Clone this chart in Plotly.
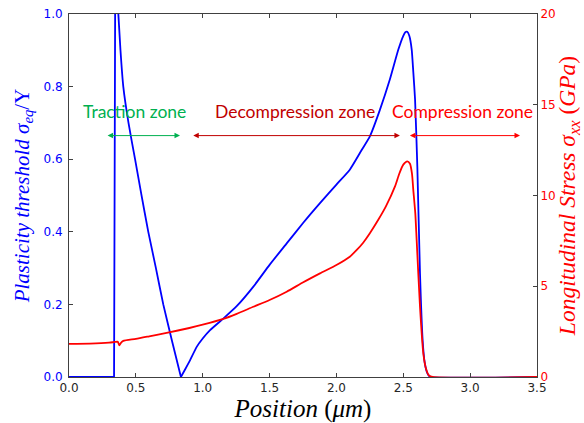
import plotly.graph_objects as go

# ---- data ----
pos_blue = [0, 0.337, 0.345, 0.355, 0.369, 0.385, 0.406, 0.445, 0.494, 0.54, 0.593, 0.65, 0.705,
            0.77, 0.837, 0.87, 0.905, 0.955, 1.0, 1.055, 1.154, 1.254, 1.379, 1.5, 1.628, 1.752,
            1.877, 2.0, 2.1, 2.19, 2.25, 2.325, 2.40, 2.463, 2.50, 2.515, 2.53, 2.545, 2.563,
            2.575, 2.588, 2.605, 2.625, 2.645, 2.66, 2.675, 2.69, 2.71, 3.5]
plasticity = [0, 0, 1.0, 1.1, 1.0, 0.9, 0.8, 0.7, 0.6, 0.505, 0.4, 0.3, 0.2,
              0.1, 0.0, 0.022, 0.046, 0.083, 0.106, 0.129, 0.161, 0.195, 0.249, 0.309, 0.368, 0.425,
              0.479, 0.53, 0.571, 0.626, 0.663, 0.736, 0.82, 0.902, 0.94, 0.95, 0.951, 0.94, 0.902,
              0.84, 0.765, 0.58, 0.285, 0.1, 0.04, 0.015, 0.004, 0.0, 0.0]

pos_red = [0, 0.157, 0.30, 0.344, 0.365, 0.376, 0.39, 0.406, 0.5, 0.6, 0.73, 0.9, 1.0, 1.154,
           1.254, 1.379, 1.5, 1.628, 1.752, 1.877, 2.0, 2.1, 2.152, 2.2, 2.25, 2.313, 2.37,
           2.438, 2.47, 2.5, 2.53, 2.55, 2.565, 2.575, 2.59, 2.60, 2.625, 2.65, 2.67, 2.69,
           2.72, 3.5]
stress = [1.83, 1.84, 1.89, 1.93, 1.94, 1.75, 1.9, 1.99, 2.1, 2.24, 2.43, 2.7, 2.88, 3.2,
          3.48, 3.87, 4.24, 4.7, 5.22, 5.71, 6.17, 6.63, 7.0, 7.4, 7.92, 8.66, 9.4,
          10.5, 11.2, 11.7, 11.88, 11.75, 11.2, 10.3, 9.0, 7.55, 3.87, 1.29, 0.45, 0.1,
          0.0, 0.0]

x_ticks = [0.0, 0.5, 1.0, 1.5, 2.0, 2.5, 3.0, 3.5]
left_ticks = [0.0, 0.2, 0.4, 0.6, 0.8, 1.0]
right_ticks = [0, 5, 10, 15, 20]

zone_labels = ["Traction zone", "Decompression zone", "Compression zone"]
zone_label_x = [0.49, 1.69, 2.945]
zone_arrow_start = [0.277, 0.918, 2.538]
zone_arrow_end = [0.83, 2.475, 3.373]
zone_colors = ["#00b050", "#c00000", "#ff0000"]
label_level = 0.732
arrow_level = 0.665

# split the blue curve where it has sharp corners (spike and V-minimum)
spike_end = pos_blue.index(0.369)
vmin = pos_blue.index(0.837)

fig = go.Figure()
fig.add_trace(go.Scatter(x=pos_red, y=stress, mode="lines", yaxis="y2",
                         line=dict(color="#ff0000", width=1.8, shape="spline", smoothing=0.6),
                         showlegend=False, hoverinfo="skip"))
blue_segments = [(0, spike_end + 1, "linear"), (spike_end, vmin + 1, "spline"), (vmin, len(pos_blue), "spline")]
for a, b, shp in blue_segments:
    fig.add_trace(go.Scatter(x=pos_blue[a:b], y=plasticity[a:b], mode="lines",
                             line=dict(color="#0000ff", width=1.8, shape=shp, smoothing=0.5),
                             showlegend=False, hoverinfo="skip"))

annotations = []
for lab, lx, xs, xe, c in zip(zone_labels, zone_label_x, zone_arrow_start, zone_arrow_end, zone_colors):
    annotations.append(dict(x=lx, y=label_level, xref="x", yref="y", text=lab, showarrow=False,
                            font=dict(family="Lato", size=17.5, color=c)))
    annotations.append(dict(x=xe, y=arrow_level, ax=xs, ay=arrow_level, xref="x", yref="y",
                            axref="x", ayref="y", text="", showarrow=True, arrowhead=2,
                            startarrowhead=2, arrowside="end+start", arrowsize=1.1,
                            startarrowsize=1.1, arrowwidth=1, arrowcolor=c))

axis_line = "#404040"
fig.update_layout(
    width=584, height=423,
    margin=dict(l=69, r=47, t=14, b=46),
    paper_bgcolor="white", plot_bgcolor="white",
    annotations=annotations,
    xaxis=dict(range=[0, 3.5], tickvals=x_ticks, ticktext=[f"{v:.1f}" for v in x_ticks],
               ticks="inside", ticklen=4, tickcolor=axis_line, showline=True, linecolor=axis_line,
               linewidth=1, mirror="ticks", showgrid=False, zeroline=False, automargin=False,
               tickfont=dict(family="DejaVu Sans", size=12, color="#262626"),
               title=dict(text="<i>Position</i> (<i>μm</i>)", standoff=10,
                          font=dict(family="Liberation Serif", size=25, color="black"))),
    yaxis=dict(range=[0, 1.0], tickvals=left_ticks, ticktext=[f"{v:.1f}" for v in left_ticks],
               ticks="inside", ticklen=4, tickcolor=axis_line, showline=True, linecolor=axis_line,
               linewidth=1, showgrid=False, zeroline=False, ticklabelstandoff=3, automargin=False,
               tickfont=dict(family="DejaVu Sans", size=12, color="#0000ff"),
               title=dict(text="<i>Plasticity threshold σ</i><sub><i>eq</i></sub>/Y", standoff=8,
                          font=dict(family="Liberation Serif", size=21, color="#0000ff"))),
    yaxis2=dict(range=[0, 20], overlaying="y", side="right", tickvals=right_ticks,
                ticktext=[str(v) for v in right_ticks], automargin=False,
                ticks="inside", ticklen=4, tickcolor=axis_line, showline=True, linecolor=axis_line,
                linewidth=1, showgrid=False, zeroline=False,
                tickfont=dict(family="DejaVu Sans", size=12, color="#ff0000"),
                title=dict(text="<i>Longitudinal Stress σ</i><sub><i>xx</i></sub> (<i>GPa</i>)",
                           standoff=6,
                           font=dict(family="Liberation Serif", size=23.5, color="#ff0000"))),
)

fig.write_html("out.html")
